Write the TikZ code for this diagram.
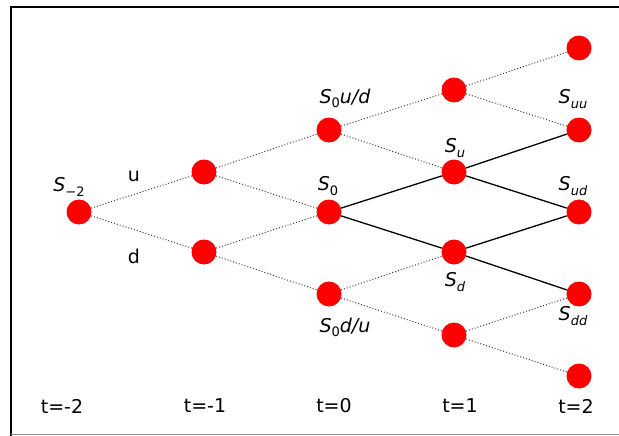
\documentclass[tikz,border=0pt]{standalone}
\usepackage{fontspec}
\setmainfont{DejaVu Sans}
\usepackage{xcolor}
\usetikzlibrary{positioning}
\definecolor{statered}{HTML}{FF0000}
\definecolor{latticegray}{HTML}{3C3C3C}
\definecolor{framegray}{HTML}{8C8C8C}
\newcommand{\lowidx}[1]{\raisebox{-0.4ex}{\fontsize{13}{13}\selectfont #1}}

\begin{document}
\begin{tikzpicture}[x=1pt, y=-1pt,
    state/.style={circle, fill=statered, minimum size=25pt, inner sep=0pt},
    lattice/.style={dotted, latticegray, line width=1pt},
    active/.style={black, line width=1.3pt},
    lbl/.style={font=\fontsize{19}{22}\selectfont, inner sep=0pt}]
  \useasboundingbox (0,0) rectangle (619,436);
  \draw[line width=2.2pt] (11,436) -- (11,7) -- (619,7);
  \draw[framegray, line width=1pt] (11,434) -- (619,434);

  % lattice states
  \node[state] (a1) at (79,212) {};
  \node[state] (b1) at (204,172) {};
  \node[state] (b2) at (204,252) {};
  \node[state] (c1) at (329,130) {};
  \node[state] (c2) at (329,212) {};
  \node[state] (c3) at (329,294) {};
  \node[state] (d1) at (454,90) {};
  \node[state] (d2) at (454,172) {};
  \node[state] (d3) at (454,252) {};
  \node[state] (d4) at (454,335) {};
  \node[state] (e1) at (579,48) {};
  \node[state] (e2) at (579,130) {};
  \node[state] (e3) at (579,212) {};
  \node[state] (e4) at (579,294) {};
  \node[state] (e5) at (579,376) {};

  % all moves
  \draw[lattice] (a1) -- (b1) (a1) -- (b2);
  \draw[lattice] (b1) -- (c1) (b1) -- (c2) (b2) -- (c2) (b2) -- (c3);
  \draw[lattice] (c1) -- (d1) (c1) -- (d2) (c3) -- (d3) (c3) -- (d4);
  \draw[lattice] (d1) -- (e1) (d1) -- (e2) (d4) -- (e4) (d4) -- (e5);
  % one period tree from S_0
  \draw[active] (c2) -- (d2) (c2) -- (d3);
  \draw[active] (d2) -- (e2) (d2) -- (e3) (d3) -- (e3) (d3) -- (e4);

  % labels
  \node[lbl] (la1) at (69,187) {\textit{S}\lowidx{−2}};
  \node[lbl] (lu) at (134,176) {u};
  \node[lbl] (ld) at (134,256) {d};
  \node[lbl] (lc1) at (345,98) {\textit{S}\lowidx{0}\textit{u/d}};
  \node[lbl] (lc2) at (328,186) {\textit{S}\lowidx{0}};
  \node[lbl] (lc3) at (345,327) {\textit{S}\lowidx{0}\textit{d/u}};
  \node[lbl] (ld2) at (455,148) {\textit{S}\lowidx{\itshape u}};
  \node[lbl] (ld3) at (455,282) {\textit{S}\lowidx{\itshape d}};
  \node[lbl] (le2) at (573,99) {\textit{S}\lowidx{\itshape uu}};
  \node[lbl] (le3) at (573,186) {\textit{S}\lowidx{\itshape ud}};
  \node[lbl] (le4) at (573,316) {\textit{S}\lowidx{\itshape dd}};

  % time axis
  \node[lbl] (t1) at (62,406) {t=-2};
  \node[lbl] (t2) at (205,406) {t=-1};
  \node[lbl] (t3) at (334,406) {t=0};
  \node[lbl] (t4) at (460,406) {t=1};
  \node[lbl] (t5) at (576,406) {t=2};
\end{tikzpicture}
\end{document}
